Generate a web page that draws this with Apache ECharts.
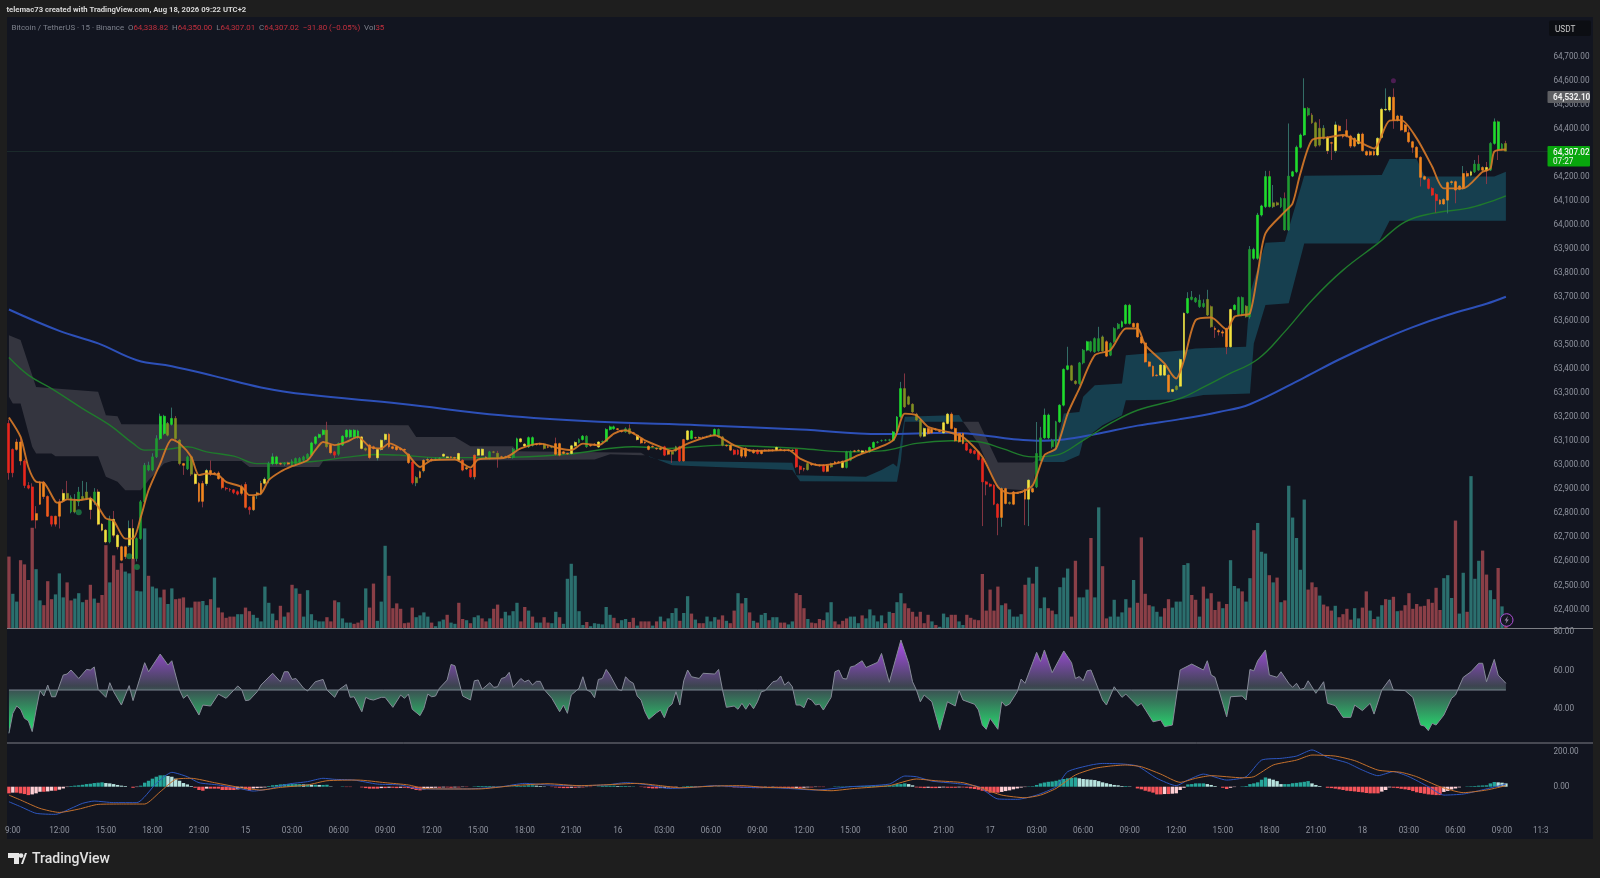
<!DOCTYPE html>
<html><head><meta charset="utf-8">
<style>html,body{margin:0;padding:0;background:#1e1e1e;overflow:hidden}#c{width:1600px;height:878px}</style>
<script src="https://cdn.jsdelivr.net/npm/echarts@6/dist/echarts.min.js"></script>
</head><body><div id="c"></div>
<script>
const tickLabels=["9:00","12:00","15:00","18:00","21:00","15","03:00","06:00","09:00","12:00","15:00","18:00","21:00","16","03:00","06:00","09:00","12:00","15:00","18:00","21:00","17","03:00","06:00","09:00","12:00","15:00","18:00","21:00","18","03:00","06:00","09:00"];
const priceTicks=[62400,62500,62600,62700,62800,62900,63000,63100,63200,63300,63400,63500,63600,63700,63800,63900,64000,64100,64200,64300,64400,64500,64600,64700];
const rsiTicks=[40,60,80];
const macdTicks=[0,200];

const opens=[63174,63066,63097,63097,63018,62916,62910,62799,62930,62930,
62870,62788,62788,62848,62883,62883,62806,62806,62848,62860,
62862,62862,62848,62889,62755,62730,62681,62775,62709,62661,
62661,62668,62737,62612,62695,62848,62980,62980,63035,63111,
63132,63125,63170,63195,63105,63007,62985,63035,62963,62924,
62924,62924,62978,62968,62968,62944,62905,62900,62898,62890,
62910,62920,62825,62815,62880,62880,62925,62942,63007,63035,
63007,63005,63010,63000,63007,63014,63021,63028,63042,63091,
63116,63128,63146,63084,63056,63046,63084,63118,63118,63118,
63115,63118,63070,63084,63077,63031,63066,63107,63129,63077,63077,
63070,63066,63046,63014,62927,62949,62977,63021,63024,63024,
63027,63038,63032,63035,63032,63049,63021,62985,62982,62952,
63042,63042,63032,63028,63056,63050,63035,63035,63034,63032,
63067,63110,63088,63077,63083,63088,63090,63088,63077,63075,
63090,63090,63056,63049,63049,63081,63095,63107,63121,63083,
63088,63076,63097,63100,63149,63152,63152,63143,63139,63152,
63135,63125,63111,63095,63079,63079,63070,63070,63077,63060,
63056,63060,63077,63018,63107,63111,63115,63115,63116,63118,
63125,63125,63149,63118,63083,63083,63063,63063,63066,63070,
63063,63063,63063,63060,63063,63063,63063,63063,63066,63063,
63063,63063,63066,62996,62986,62982,63004,63004,63000,63000,
63000,63007,63014,63014,63016,62991,63021,63060,63060,63060,
63060,63056,63074,63095,63102,63104,63104,63104,63139,
63202,63319,63285,63254,63213,63188,63121,63153,63149,63150,
63143,63135,63174,63213,63153,63132,63132,63091,63066,63060,
63056,63028,62931,62921,62917,62838,62783,62903,62845,62889,
62885,62889,62899,62859,62889,62910,63021,63114,63114,63077,
63077,63181,63250,63399,63414,63350,63340,63426,63479,63476,
63472,63476,63476,63514,63458,63514,63569,63576,63590,63666,
63590,63590,63534,63509,63430,63412,63375,63375,63375,63375,
63315,63315,63329,63440,63634,63690,63680,63660,63660,63625,
63660,63570,63560,63555,63569,63493,63648,63625,63632,63618,
63618,63861,63861,64041,64076,64201,64076,64092,64076,64110,
63979,64203,64221,64323,64374,64485,64457,64425,64402,64360,
64364,64342,64309,64411,64370,64392,64370,64328,64339,64378,
64305,64305,64305,64291,64364,64478,64478,64531,64436,64453,
64416,64384,64346,64323,64281,64201,64190,64152,64127,64103,
64087,64103,64176,64180,64148,64152,64214,64207,64221,64253,
64228,64239,64228,64339,64429,64314,64338.82];

const closes=[62969,62969,63066,63018,62916,62905,62772,62772,62838,62870,
62788,62755,62755,62788,62852,62862,62866,62852,62889,62870,
62889,62816,62889,62755,62730,62681,62772,62709,62661,62605,
62620,62737,62612,62695,62848,63000,63000,63035,63111,63204,
63204,63174,63195,63111,63007,63000,63035,62963,62924,62850,
62850,62978,62963,62965,62944,62907,62902,62898,62887,62880,
62883,62825,62815,62870,62885,62925,62942,63007,63035,63007,
63005,63008,63005,63018,63028,63028,63035,63046,63093,63118,
63128,63146,63077,63052,63042,63091,63121,63146,63146,63146,
63143,63070,63063,63032,63070,63066,63104,63129,63077,63070,63065,
63066,63063,63011,62927,62949,62973,63021,63024,63020,63027,
63030,63046,63035,63032,63030,63021,62980,62990,62952,63042,
63067,63067,63034,63056,63054,63032,63034,63034,63032,63067,
63110,63098,63080,63115,63115,63086,63087,63070,63075,63077,
63046,63042,63049,63047,63081,63095,63107,63121,63077,63081,
63086,63097,63099,63149,63160,63160,63149,63140,63152,63132,
63133,63107,63093,63093,63066,63077,63068,63066,63042,63046,
63046,63077,63018,63107,63143,63143,63114,63116,63115,63119,
63126,63149,63118,63083,63081,63063,63046,63046,63038,63038,
63060,63052,63049,63049,63061,63061,63061,63074,63064,63061,
63061,63061,62993,62982,62984,63007,63002,63003,62998,62975,
62975,62993,63007,63012,62991,63056,63057,63058,63062,63054,
63058,63074,63095,63097,63103,63105,63106,63139,63201,
63319,63243,63254,63222,63188,63121,63153,63132,63135,63149,
63141,63177,63213,63153,63102,63098,63091,63063,63052,63049,
63024,62931,62921,62913,62838,62783,62903,62841,62841,62838,
62883,62887,62859,62938,62903,63049,63114,63209,63209,63104,
63181,63250,63399,63414,63354,63340,63426,63479,63514,63514,
63527,63527,63534,63454,63507,63569,63587,63597,63666,63590,
63576,63534,63509,63430,63412,63371,63373,63417,63417,63306,
63307,63329,63440,63632,63694,63700,63695,63687,63673,63690,
63576,63565,63555,63550,63493,63648,63666,63698,63698,63662,
63898,63898,64041,64079,64201,64076,64092,64083,64110,63979,
64203,64221,64323,64374,64485,64457,64425,64328,64332,64402,
64309,64340,64416,64392,64368,64370,64328,64360,64378,64309,
64291,64291,64291,64360,64481,64481,64531,64436,64453,64395,
64388,64346,64323,64281,64198,64190,64152,64124,64101,64087,
64106,64176,64180,64145,64162,64214,64203,64221,64253,64228,
64239,64225,64339,64429,64314,64336,64307.02];

const highs=[63190,63070,63110,63110,63025,62930,62925,62830,62935,62935,
62875,62790,62790,62860,62900,62935,62875,62880,62910,62935,
62930,62870,62905,62900,62760,62735,62790,62810,62715,62665,
62665,62770,62775,62700,62855,63010,63015,63050,63125,63215,
63210,63180,63240,63205,63110,63010,63040,63040,62970,62930,
62935,62985,63020,62972,62975,62950,62910,62905,62900,62895,
62920,62930,62830,62875,62890,62935,62950,63015,63050,63040,
63012,63012,63015,63025,63032,63034,63040,63050,63098,63122,
63132,63150,63181,63090,63060,63095,63125,63150,63150,63150,
63148,63122,63075,63090,63082,63070,63108,63133,63135,63082,63080,
63075,63070,63050,63018,62955,62978,63025,63032,63030,63032,
63034,63050,63038,63038,63036,63053,63025,62995,62986,63045,
63070,63070,63038,63060,63060,63060,63040,63040,63038,63072,
63115,63114,63092,63120,63120,63092,63094,63092,63081,63080,
63115,63094,63060,63053,63085,63100,63112,63126,63125,63087,
63092,63100,63103,63154,63165,63165,63155,63147,63158,63170,
63139,63129,63115,63099,63083,63083,63074,63074,63081,63064,
63060,63081,63081,63110,63147,63147,63119,63120,63120,63123,
63130,63153,63153,63122,63087,63087,63067,63067,63070,63074,
63067,63067,63067,63064,63067,63067,63067,63078,63070,63067,
63067,63067,63070,63000,62990,63011,63008,63008,63004,63004,
63004,63011,63018,63018,63020,63060,63062,63064,63066,63064,
63064,63078,63099,63101,63107,63109,63110,63143,63205,
63347,63382,63290,63258,63218,63192,63157,63157,63153,63155,
63148,63182,63218,63220,63158,63136,63136,63095,63070,63064,
63060,63032,62935,62925,62921,62842,62908,62907,62850,62893,
62889,62893,62903,62942,62907,63180,63160,63236,63215,63110,
63185,63254,63403,63493,63418,63355,63430,63484,63518,63518,
63532,63576,63540,63520,63512,63574,63592,63602,63670,63672,
63594,63594,63538,63514,63434,63416,63380,63421,63421,63380,
63319,63333,63445,63636,63720,63725,63700,63710,63690,63730,
63665,63578,63566,63563,63573,63652,63670,63702,63702,63666,
63912,63905,64050,64084,64225,64225,64166,64097,64115,64135,
64422,64225,64330,64380,64610,64490,64465,64430,64440,64415,
64370,64346,64430,64417,64374,64440,64375,64365,64384,64384,
64310,64310,64310,64365,64487,64568,64535,64568,64458,64458,
64420,64400,64350,64328,64286,64206,64195,64157,64132,64108,
64111,64181,64185,64185,64166,64245,64225,64226,64270,64290,
64244,64262,64344,64443,64434,64340,64350];

const lows=[62940,62950,63060,63000,62905,62900,62770,62737,62835,62860,
62785,62745,62745,62737,62845,62855,62800,62800,62830,62855,
62855,62775,62835,62750,62725,62675,62675,62700,62650,62600,
62610,62660,62600,62600,62690,62840,62975,62975,63030,63105,
63125,63120,63165,63100,63000,62960,62980,62955,62920,62845,
62825,62915,62955,62960,62940,62900,62895,62890,62880,62875,
62875,62820,62795,62810,62860,62875,62920,62925,63000,63000,
63000,62998,63000,62995,63000,63008,63015,63024,63038,63085,
63112,63124,63070,63045,63030,63040,63080,63112,63112,63112,
63110,63065,63058,63025,63065,63020,63060,63100,63070,63065,63060,
63060,63055,63005,62920,62913,62945,62970,63015,63015,63020,
63022,63034,63028,63028,63026,63016,62975,62980,62948,62941,
63038,63038,63028,63024,63050,62990,63030,63030,63028,63028,
63062,63094,63076,63072,63078,63082,63083,63065,63071,63071,
63040,63037,63045,63043,63045,63077,63091,63103,63072,63077,
63082,63072,63093,63096,63145,63148,63145,63136,63135,63128,
63129,63103,63089,63089,63062,63073,63064,63062,63038,63042,
63010,63056,63014,63015,63103,63107,63110,63111,63111,63114,
63121,63121,63114,63079,63077,63059,63042,63042,63030,63030,
63056,63048,63045,63045,63057,63057,63057,63059,63060,63057,
63057,63057,62989,62965,62975,62978,62998,62999,62994,62971,
62971,62989,63003,63008,62987,62987,63017,63054,63056,63050,
63054,63052,63070,63091,63098,63100,63100,63100,63135,
63195,63238,63250,63218,63184,63115,63117,63128,63130,63144,
63136,63130,63170,63148,63098,63094,63087,63059,63048,63045,
63020,62747,62875,62909,62834,62709,62744,62837,62836,62834,
62881,62882,62751,62747,62885,62905,63017,63110,63108,63070,
63072,63176,63245,63395,63350,63335,63335,63420,63474,63470,
63468,63472,63472,63450,63454,63510,63565,63572,63586,63585,
63572,63530,63505,63426,63408,63367,63369,63371,63371,63302,
63303,63311,63325,63436,63630,63686,63676,63655,63655,63621,
63572,63530,63540,63535,63462,63489,63644,63621,63625,63614,
63610,63855,63855,64035,64070,64072,64070,64079,64070,63975,
63975,64199,64215,64318,64370,64452,64420,64322,64326,64355,
64295,64270,64300,64388,64360,64364,64320,64323,64334,64304,
64287,64287,64287,64286,64360,64474,64470,64400,64430,64390,
64384,64340,64300,64276,64160,64186,64148,64120,64051,64083,
64083,64048,64166,64090,64144,64147,64198,64202,64216,64224,
64223,64170,64224,64334,64270,64310,64307.01];

const candleTones=("RRAARRRAAA"+"DRDAYOGOGO"+"OYGYYYGYYA"+"AYYGGGGGGL"+"LOLOOAGOYA"+"AYAAADRRRR"+"ADRAAAYGLL"+"AGAGGGGGLL"+"LLOARGLLLL"+"LYOAAYYYAAA"+
"AAAROAAAAG"+"GYYAAYDARD"+"YYAGOOAAAG"+"LYYLLAAOAO"+"AAAAYYGLGA"+"AYGLLLAAGO"+"AYAAAAAARA"+"OORDYLAAAA"+"GLGOAARRAA"+"AARAAAAYAA"+"AARRAOAAAR"+"AOAAYGGAAY"+"ALLGGGGLL"+
"LOOOOOYAAA"+"AYYAAAARRR"+"RRRRRRAAOA"+"AAAYAGGLLG"+"GLLLOOGGLG"+"GGOAGGGLLL"+"AAAAAAAYYA"+"YOYYLGGGGO"+"OAAAAYLGGO"+"GLLLLLOOGG"+"GLLLLGOOOO"+"YAYAAAAAYA"+"AAAYYYYAAA"+"AAAAAARRRA"+"AAAAAAAYGG"+"AYGLLGO").split("");

const volumes=[119,57,44,113,106,80,167,98,46,38,78,48,56,91,51,76,46,49,58,43,47,72,49,42,55,138,76,121,97,108,
94,91,116,62,61,166,87,69,66,51,64,40,66,48,49,51,34,34,44,44,45,38,48,84,34,26,17,19,19,23,
23,34,28,22,17,11,69,42,24,13,37,19,26,72,66,57,19,63,23,13,11,11,18,11,46,43,16,9,9,7,
9,13,66,34,74,12,44,137,87,33,41,
32,8,9,34,18,21,26,19,9,3,11,14,22,9,7,42,15,13,8,18,21,16,11,16,32,39,16,27,21,28,
42,11,35,29,19,9,9,18,9,8,27,18,7,82,107,87,28,5,10,3,8,7,6,35,22,17,8,13,15,10,
17,4,11,11,11,4,11,19,11,16,25,33,12,25,53,24,14,8,8,19,11,18,14,21,12,8,29,58,41,50,
26,12,9,22,25,13,18,18,9,9,6,11,58,55,33,15,9,8,15,13,26,43,11,6,12,16,19,19,8,21,
16,31,21,11,21,8,27,25,43,
58,41,33,27,19,27,8,22,11,5,2,24,18,22,22,11,5,22,17,14,13,90,29,64,29,69,38,41,31,19,
19,23,72,84,74,102,33,51,33,29,23,68,84,99,19,112,51,51,64,150,51,201,103,16,19,47,19,26,48,34,
80,42,151,57,38,36,27,19,33,48,34,44,44,105,108,55,47,19,69,49,58,30,44,33,40,113,70,66,61,44,
83,163,175,127,124,88,76,84,43,46,237,184,150,97,214,64,76,68,54,39,36,29,37,18,23,32,14,33,16,34,
61,29,15,19,38,48,47,52,28,29,38,58,32,40,36,37,48,42,67,30,83,88,50,179,24,92,27,253,82,112,
129,89,63,48,100,36,8];

const volumeSides=("RTTRRRRTTR"+"RRTTTRRTTT"+"RRTRRRTRRR"+"TTRTTTRTTT"+"RTTRRRTTRR"+"TTRTRRRRRT"+"TRRTTTTTTR"+"RTRRTRTTTT"+"TTRRRTTTTR"+"RRTRRTTTRRR"+
"RRRRTTTTRT"+"TTRTTRRTRT"+"TRRTRRRTTT"+"TRRTRTTRRT"+"TRTTTTTTRT"+"TTTTTRRTTR"+"RTRRRTRTRT"+"TTRTTRTRRT"+"TTRRTRRTRT"+"RTRTTRTTRR"+"TTRRRTRRRR"+"TTRRRRTTTR"+"TTTTTRTRT"+
"TRRRRRRRTR"+"TTTRRTTRRR"+"RRRRRRTRTT"+"TTRTRTTTRR"+"TTTTRRTTTR"+"TTRRTTTTTR"+"TRRRRTTTRR"+"TTTTTRRTRT"+"RRRTRTTTRT"+"TRTTTRTRTR"+"TTTTTRRRTR"+"RRTRRRRTTR"+"RTRTTRTRTR"+"RRRRRRRRRR"+"TTTRTTRTTT"+"RRTTRTR").split("");

const ema200=[[0,63648],[13,63559],[23,63507],[33,63437],[42,63412],[53,63371],[65,63324],[77,63294],[101,63256],[127,63208],[152,63181],[178,63167],[204,63149],[225,63130],[243,63135],[251,63125],[260,63107],[265,63102],[272,63107],[280,63129],[291,63165],[302,63192],[312,63222],[320,63254],[334,63365],[343,63440],[353,63515],[362,63575],[371,63625],[381,63672],[386,63701]];
const ema50=[[0,63448],[5,63375],[11,63319],[19,63236],[26,63167],[32,63091],[35,63063],[41,63067],[46,63077],[51,63056],[58,63038],[64,63007],[71,63010],[79,63017],[88,63035],[95,63045],[101,63042],[111,63032],[126,63032],[144,63046],[161,63077],[170,63070],[184,63084],[189,63081],[204,63070],[216,63056],[225,63060],[234,63091],[243,63102],[250,63098],[256,63070],[264,63035],[270,63042],[277,63104],[284,63174],[291,63229],[302,63278],[308,63325],[314,63375],[322,63441],[329,63556],[336,63687],[344,63812],[353,63923],[360,64013],[367,64048],[376,64069],[382,64097],[386,64121]];
const ema9=[[0,63199],[3,63118],[5,62993],[7,62931],[9,62927],[12,62848],[13,62844],[15,62858],[18,62855],[21,62862],[23,62827],[25,62779],[27,62769],[30,62695],[32,62695],[34,62785],[36,62896],[39,63007],[42,63107],[44,63091],[47,63035],[49,62959],[51,62966],[54,62959],[56,62931],[60,62910],[62,62876],[65,62883],[67,62938],[70,62973],[73,62996],[77,63021],[79,63063],[81,63097],[84,63084],[87,63097],[90,63118],[93,63077],[96,63070],[98,63091],[101,63070],[103,63042],[106,62993],[109,63021],[115,63024],[119,62991],[121,63024],[128,63032],[132,63070],[137,63090],[142,63070],[145,63063],[148,63090],[152,63083],[156,63132],[159,63146],[164,63104],[168,63077],[171,63060],[175,63090],[182,63125],[187,63083],[192,63060],[201,63063],[204,63028],[209,63000],[215,63014],[219,63042],[228,63104],[231,63215],[234,63208],[237,63160],[242,63139],[246,63118],[251,63035],[255,62910],[258,62883],[261,62889],[264,62917],[267,63042],[270,63070],[273,63215],[276,63319],[280,63458],[284,63479],[288,63569],[291,63569],[293,63500],[298,63423],[300,63375],[301,63361],[303,63437],[306,63604],[310,63615],[314,63565],[316,63618],[318,63625],[320,63632],[322,63798],[324,63965],[329,64055],[331,64090],[333,64214],[336,64353],[340,64364],[344,64374],[348,64346],[352,64318],[356,64434],[359,64436],[363,64360],[367,64242],[370,64152],[375,64152],[380,64221],[382,64235],[383,64305],[386,64314]];

const grayTop=[[0,63541],[3,63521],[7,63326],[23,63306],[25,63208],[28,63204],[29,63171],[103,63167],[105,63118],[115,63118],[119,63079],[130,63079],[131,63058],[163,63052],[164,63042]];
const grayBottom=[[0,63285],[1,63257],[3,63257],[6,63077],[7,63049],[11,63049],[12,63038],[23,63038],[25,62952],[28,62931],[30,62896],[34,62896],[36,62938],[40,63007],[42,63018],[60,63018],[62,62993],[80,62993],[81,63017],[130,63021],[151,63024],[155,63046],[163,63042],[164,63042]];
const tealTop1=[[165,63035],[167,63025],[171,63018],[202,63010],[203,62959],[221,62952],[225,62980],[228,63007],[229,62994],[230,63104],[231,63202],[245,63209],[246,63181]];
const tealBottom1=[[165,63038],[171,63000],[202,62980],[204,62934],[229,62931],[230,63021],[231,63181],[246,63181]];
const grayTop2=[[246,63181],[250,63181],[255,63012],[264,63012],[265,63021]];
const grayBottom2=[[246,63181],[250,63091],[255,62903],[264,62894],[265,63021]];
const tealTop2=[[265,63021],[267,63035],[270,63077],[272,63215],[276,63222],[277,63285],[280,63333],[287,63340],[288,63458],[303,63479],[306,63486],[319,63493],[320,63715],[324,63926],[329,63930],[334,64205],[354,64208],[356,64274],[363,64274],[365,64201],[383,64201],[386,64221]];
const tealBottom2=[[265,63021],[267,63014],[272,63014],[276,63042],[277,63104],[282,63167],[287,63208],[288,63271],[302,63274],[308,63292],[320,63299],[321,63507],[324,63667],[330,63674],[334,63923],[353,63923],[356,64017],[386,64017]];

const greenMarks=[[18,62805],[31,62622],[33,62577]];
const purpleMarks=[[357,64600]];

const rsiValues=[[0,27.5],[1,37.9],[2,41.7],[3,40],[4,35.3],[5,34],[6,28.4],[7,39.6],[8,49.7],[9,46.9],[10,52.6],[11,46.5],[12,46.5],[14,57.8],[15,58.3],[16,60.4],[18,56],[20,60.7],[21,60.4],[22,62],[23,50.3],[25,46.2],[26,53.8],[27,49.1],[29,42.2],[31,52.3],[32,44.5],[35,64.2],[36,59.5],[39,68.7],[41,63],[42,65.2],[44,50],[45,45.7],[46,47.4],[49,37],[50,42.2],[52,41.7],[54,47.9],[56,45.7],[59,52.1],[60,50.3],[61,44.5],[62,44.8],[64,49.1],[65,52.6],[68,58.7],[70,54.3],[71,59.5],[72,59.5],[73,55.5],[74,56],[76,50.9],[77,49.5],[79,54.3],[81,55.5],[82,50],[84,46.2],[85,50],[87,52.9],[88,46.2],[89,46.5],[91,38.7],[92,46.2],[93,45.2],[94,44.8],[96,46.2],[97,46.2],[99,41],[101,47.4],[102,45.7],[103,47.9],[104,40],[106,36.7],[107,40.5],[108,47.9],[109,46.5],[110,46.9],[111,50.9],[113,55.2],[114,63.3],[115,62.6],[117,46.9],[119,44.8],[120,54.8],[121,55.2],[122,50.3],[124,53.8],[125,51.4],
[126,51.7],[127,56],[128,56.6],[129,59.2],[130,51.4],[132,56],[133,54.3],[134,55.2],[135,52.6],[136,54.5],[137,54.5],[138,50.3],[140,45.7],[142,38.7],[143,42.2],[144,37.9],[145,47.4],[147,50.9],[148,56.9],[149,50],[150,49.1],[151,46],[152,55.5],[153,56],[154,60.7],[155,57.8],[157,50.3],[158,49.7],[159,56.9],[160,54.7],[161,53.5],[162,46.9],[163,44.8],[164,38.7],[165,34.8],[167,38.2],[168,39.6],[169,35.6],[170,41],[171,42.7],[172,49.1],[173,42.2],[174,54.8],[175,60.4],[176,56.9],[178,56],[179,58.7],[182,58.3],[183,60.7],[184,50],[185,41],[187,41.7],[188,40],[189,43.1],[190,40],[191,43.1],[192,40.3],[193,43.9],[194,49.1],[195,49.7],[197,54.3],[198,54.8],[199,57.3],[200,52.6],[201,54.3],[202,51.7],[203,42.2],
[204,42.2],[205,40.8],[206,45.7],[207,44.8],[208,42.2],[209,42.7],[210,39.6],[212,46.2],[213,59.5],[214,60.4],[215,56],[216,55.7],[217,62],[218,62.5],[220,65.2],[221,61.7],[224,64.4],[225,69],[227,54],[230,76],[232,63.9],[233,54.3],[234,50],[235,43.9],[236,47.4],[238,43.9],[240,29.2],[242,43.9],[244,41.7],[245,49.7],[246,44.8],[249,42.6],[250,39.6],[251,31.8],[252,29.6],[253,35.3],[255,29.6],[256,43.9],[257,41.7],[258,42.7],[260,49.1],[261,55.7],[262,53.5],[265,69.6],[266,64.8],[267,70.8],[269,59],[272,70.3],[274,64.2],[275,56],[276,57],[277,54.8],[278,60],[279,60.4],[281,50],
[282,44.8],[283,42.2],[285,51.7],[287,46.2],[288,47.9],[291,41.7],[292,43.1],[295,33.5],[297,34.4],[298,31],[300,31.8],[302,60.4],[305,63.5],[308,60.4],[309,65.2],[310,57.8],[311,56.6],[314,36.1],[315,46.5],[318,46.9],[319,44.8],[320,60.7],[321,60],[322,65.2],[324,70.8],[325,57.8],[327,56.6],[328,59.5],[330,53.5],[331,51.4],[332,53.5],[333,50.3],[334,50.9],[335,54.8],[337,48.3],[339,54.3],[340,43.1],[342,41.9],[344,35.8],[346,35.8],[347,42.2],[349,39.3],[351,43.1],[352,37.5],[354,50],[356,55.5],[357,50],[360,49.7],[362,46.2],[364,31.8],[365,31.3],[366,28.9],[367,32.7],[368,31.8],[370,37],[372,45.7],[373,47.4],[375,56.6],[377,59.5],[379,63.9],[380,63.9],[381,54.3],[383,65.9],[384,57.8],[386,53.5]];
const rsiMid=[[0,50],[386,50]];

const macdLine=[[0,-86],[3,-114],[7,-152],[12,-158],[16,-124],[19,-95],[22,-82],[27,-91],[33,-91],[38,19],[42,82],[46,57],[49,23],[54,10],[60,-13],[63,-25],[67,-13],[72,15],[77,29],[81,48],[84,42],[89,38],[95,15],[101,10],[105,-10],[109,-13],[118,-13],[127,0],[133,19],[139,10],[147,6],[154,10],[159,23],[165,10],[170,-10],[175,-6],[182,6],[190,-4],[197,-6],[201,-10],[208,-19],[217,0],[227,15],[231,61],[234,57],[238,32],[244,19],[250,0],[255,-70],[260,-72],[265,-48],[270,0],[273,86],[279,124],[282,133],[287,130],[291,118],[296,48],[301,6],[304,38],[308,72],[314,38],[319,57],[323,152],[328,162],[332,175],[336,210],[340,168],[345,137],[349,95],[353,63],[357,86],[361,57],[366,0],[370,-48],[375,-42],[379,-23],[386,15]];
const macdSignal=[[0,-48],[3,-76],[8,-124],[13,-147],[18,-128],[23,-101],[29,-99],[35,-99],[39,-29],[43,42],[47,48],[53,23],[60,-6],[65,-19],[70,-4],[77,10],[82,34],[90,38],[97,23],[103,10],[107,-10],[113,-13],[121,-13],[130,6],[139,17],[147,6],[154,11],[162,19],[168,6],[173,-6],[182,4],[189,6],[195,-4],[201,-6],[212,-23],[218,-10],[227,6],[234,44],[239,34],[246,23],[251,-10],[256,-48],[262,-63],[266,-48],[270,-10],[275,67],[280,105],[284,118],[288,124],[292,114],[297,72],[302,25],[306,48],[310,63],[318,51],[321,57],[326,124],[332,152],[336,181],[342,175],[347,149],[353,95],[359,82],[363,57],[369,0],[375,-34],[381,-19],[386,6]];
const macdHist=[-38,-34,-34,-38,-42,-48,-44,-38,-29,-29,-27,-23,-23,-17,-10,-2,
4,6,8,11,15,17,21,23,25,21,19,15,10,6,4,0,-6,-2,
6,23,34,46,57,65,65,61,57,46,34,21,13,4,
-6,-19,-23,-11,-11,-11,-11,-19,-19,-19,-19,-15,-8,-15,-23,-10,-8,-6,-4,
4,8,10,13,15,15,15,15,15,13,13,11,11,10,10,11,
2,0,0,2,-2,-2,0,0,
-4,-8,-11,-11,-11,-8,-8,-6,-6,-8,
-6,-6,-8,-13,-19,-21,-15,-11,-8,-6,-6,-4,-4,-6,-4,-4,-2,-2,0,2,4,
4,4,4,2,2,2,2,2,2,4,4,
6,8,8,6,4,2,0,-2,
-4,-6,-8,-8,-6,-6,-4,-4,-2,-2,0,
2,4,6,6,6,4,4,4,2,2,0,-2,
-4,-8,-10,-10,-8,-6,-4,-4,
-2,0,2,4,4,2,2,4,4,2,0,2,0,-2,
-2,-4,-4,-6,-6,-6,-8,-8,-8,-6,-6,-4,-4,-6,-8,
-8,-10,-8,-8,-6,-4,-4,-2,-2,-2,0,0,2,2,2,2,
4,4,4,4,4,4,6,6,6,6,6,8,
15,15,19,15,8,
-4,-6,-8,-6,-8,-8,-6,-4,-6,-6,-6,-4,-4,-6,
-10,-13,-17,-23,-27,-34,-34,-34,-30,-25,-21,-15,-10,-5,-2,2,
3,10,19,24,28,30,34,40,44,48,50,53,48,44,42,40,38,32,25,20,15,
10,8,4,4,2,0,
-10,-15,-23,-28,-34,-44,-44,-42,-42,-40,-38,-19,-6,
13,15,19,19,19,15,10,4,0,-6,
-13,-6,-2,0,2,4,
15,19,25,40,53,46,40,32,15,15,15,20,22,25,28,32,19,10,4,0,
-6,-8,-11,-15,-19,-23,-25,-27,-30,-32,-36,-38,-38,-38,-28,-19,-4,-6,-8,-12,
-15,-19,-25,-32,-36,-40,-44,-46,-48,-48,
-30,-24,-16,-10,-4,0,2,3,4,6,7,8,19,27,25,23,19];

const highTag=64532.10, lastPrice=64307.02;

// ---------- presentation ----------
const tones={L:'#1fdc2c',G:'#1f9a30',O:'#7f8f22',Y:'#f3e23e',A:'#f2861e',D:'#ee5a1c',R:'#e8261c'};
const FONT='Roboto, "Liberation Sans", sans-serif';
const axisText='#8f939e';
const CATS=398, LEFT=7, WIDTH=1543.5;
const categories=new Array(CATS).fill('');
tickLabels.forEach((t,k)=>{categories[1+12*k]=t;});
categories[395]='11:3';

const wickItems=opens.map((o,i)=>{const up=closes[i]>=o;const c=up?'rgba(58,125,115,.85)':'rgba(150,58,72,.85)';
  return {value:[o,closes[i],lows[i],highs[i]],itemStyle:{color:c,color0:c,borderColor:c,borderColor0:c}};});
const bodyItems=opens.map((o,i)=>{const c=tones[candleTones[i]];const a=Math.min(o,closes[i]),b=Math.max(o,closes[i]);
  return {value:[o,closes[i],a,b],itemStyle:{color:c,color0:c,borderColor:c,borderColor0:c}};});
const volItems=volumes.map((v,i)=>({value:v,itemStyle:{color:volumeSides[i]==='R'?'#8a3f47':'#2b6f6e'}}));
const histItems=macdHist.map((v,i)=>{const p=i?macdHist[i-1]:v;
  const c=v>=0?(v>=p?'#26a69a':'#b7e3de'):(v<=p?'#f6545a':'#ffd0d5');
  return {value:v,itemStyle:{color:c}};});

function cloud(name,top,bottom,fill){
  return {type:'custom',name,xAxisIndex:0,yAxisIndex:0,z:2,silent:true,clip:true,data:[[0,0]],
    renderItem:(p,api)=>({type:'polygon',shape:{points:top.concat(bottom.slice().reverse()).map(d=>api.coord(d))},style:{fill}})};
}
function line(name,data,color,width,xi,yi,z,smooth,extra){
  return Object.assign({type:'line',name,data,xAxisIndex:xi,yAxisIndex:yi,z,symbol:'none',smooth:smooth,silent:true,
    lineStyle:{color,width}},extra||{});
}
const xa=(gi,show)=>({type:'category',gridIndex:gi,data:categories,boundaryGap:true,axisLine:{show:false},axisTick:{show:false},splitLine:{show:false},
  axisLabel:{show:show,interval:0,color:axisText,fontSize:8.2,fontFamily:FONT,margin:7,hideOverlap:false}});
const money=v=>Number(v).toLocaleString('en-US',{minimumFractionDigits:2,maximumFractionDigits:2});
const yLabel=(vals)=>({customValues:vals,color:axisText,fontSize:8.2,fontFamily:FONT,margin:3,formatter:money,padding:[4,0,0,0]});

const chart=echarts.init(document.getElementById('c'),null,{renderer:'canvas',width:1600,height:878});
chart.setOption({
  animation:false,backgroundColor:'#1e1e1e',
  grid:[{left:LEFT,top:17,width:WIDTH,height:611},{left:LEFT,top:629,width:WIDTH,height:113},{left:LEFT,top:743.5,width:WIDTH,height:76}],
  xAxis:[xa(0,false),xa(1,false),xa(2,true)],
  yAxis:[
   {type:'value',gridIndex:0,position:'right',min:62323,max:64865,splitLine:{show:false},axisLine:{show:false},axisTick:{show:false},axisLabel:yLabel(priceTicks)},
   {type:'value',gridIndex:0,min:0,max:1018,show:false},
   {type:'value',gridIndex:1,position:'right',min:23,max:81.7,splitLine:{show:false},axisLine:{show:false},axisTick:{show:false},axisLabel:yLabel(rsiTicks)},
   {type:'value',gridIndex:2,position:'right',min:-187.4,max:246.9,splitLine:{show:false},axisLine:{show:false},axisTick:{show:false},axisLabel:yLabel(macdTicks)}
  ],
  series:[
   {type:'bar',name:'Volume',data:volItems,xAxisIndex:0,yAxisIndex:1,barWidth:3.3,z:1,silent:true},
   cloud('Cloud gray',grayTop,grayBottom,'#34353f'),
   cloud('Cloud teal',tealTop1,tealBottom1,'#163f4f'),
   cloud('Cloud gray 2',grayTop2,grayBottom2,'#34353f'),
   cloud('Cloud teal 2',tealTop2,tealBottom2,'#163f4f'),
   line('EMA 200',ema200,'#2d50b8',2,0,0,3,0.4),
   line('EMA 50',ema50,'#1f7a2c',1.4,0,0,3,0.4),
   {type:'candlestick',name:'Wicks',data:wickItems,xAxisIndex:0,yAxisIndex:0,barWidth:1,z:4,silent:true,
     markLine:{silent:true,symbol:'none',label:{show:false},lineStyle:{color:'rgba(60,120,80,.22)',type:'solid',width:1},data:[{yAxis:lastPrice}]}},
   {type:'candlestick',name:'BTCUSDT',data:bodyItems,xAxisIndex:0,yAxisIndex:0,barWidth:2.4,z:5,silent:true,itemStyle:{borderWidth:0.6}},
   line('EMA 9',ema9,'#d97a28',1.9,0,0,6,0.25,{lineStyle:{color:'#d97a28',width:1.9,opacity:.9}}),
   {type:'scatter',name:'Buy marks',data:greenMarks,xAxisIndex:0,yAxisIndex:0,symbolSize:6,z:6,silent:true,itemStyle:{color:'#1b7f46'}},
   {type:'scatter',name:'Top marks',data:purpleMarks,xAxisIndex:0,yAxisIndex:0,symbolSize:5,z:6,silent:true,itemStyle:{color:'#5b1f5f'}},
   line('RSI',rsiValues,'#858a97',1,1,2,3,false,{
     areaStyle:{origin:50,opacity:1,color:new echarts.graphic.LinearGradient(0,640,0,732,[
       {offset:0,color:'#ad4df0'},{offset:.5,color:'#3d4450'},{offset:1,color:'#27e070'}],true)}}),
   line('RSI mid',rsiMid,'#7b8490',1,1,2,4,false),
   {type:'bar',name:'Histogram',data:histItems,xAxisIndex:2,yAxisIndex:3,barWidth:3.4,z:2,silent:true},
   line('MACD',macdLine,'#2d56bf',1,2,3,3,0.2),
   line('Signal',macdSignal,'#c4702c',1,2,3,3,0.2)
  ]
});

// overlays positioned through the price axis
const yHigh=chart.convertToPixel({yAxisIndex:0},highTag), yLast=chart.convertToPixel({yAxisIndex:0},lastPrice);
const txt=(x,y,t,o)=>({type:'text',x,y,silent:true,style:Object.assign({text:t,fill:'#d0d0d0',font:'8.2px '+FONT,verticalAlign:'middle'},o||{})});
const rect=(x,y,w,h,f,o)=>({type:'rect',silent:true,shape:{x,y,width:w,height:h,r:(o&&o.r)||0},style:{fill:f},z:(o&&o.z)||0});
const hl=(y)=>({type:'line',silent:true,z:20,shape:{x1:7,y1:y,x2:1593,y2:y},style:{stroke:'#7d7f85',lineWidth:1}});
const G='{g|', R='{r|';
const legendText=G+'Bitcoin / TetherUS · 15 · Binance  O}'+R+'64,338.82}'+G+'  H}'+R+'64,350.00}'+G+'  L}'+R+'64,307.01}'+G+'  C}'+R+'64,307.02  −31.80 (−0.05%)}'+G+'  Vol}'+R+'35}';
const gfont='7.9px '+FONT;
chart.setOption({graphic:{elements:[
  Object.assign(rect(7,17,1586,822,'#121520'),{z:-10,zlevel:0}),
  hl(628.5),hl(743),
  rect(1549,20.5,42,15.5,'#0c0e13',{r:2,z:30}),
  Object.assign(txt(1555,29.5,'USDT',{fill:'#c9c9c9',font:'8.2px '+FONT}),{z:31}),
  rect(1547.5,yHigh-6,42.5,12,'#5e5f63',{r:1,z:30}),
  Object.assign(txt(1553,yHigh+1,money(highTag),{fill:'#f0f0f0',font:'bold 8.2px '+FONT}),{z:31}),
  rect(1547.5,yLast-5,42.5,20.5,'#08a60d',{r:1,z:30}),
  Object.assign(txt(1553,yLast+1.5,money(lastPrice),{fill:'#f4f4f4',font:'500 8.2px '+FONT}),{z:31}),
  Object.assign(txt(1553,yLast+10.5,'07:27',{fill:'#f4f4f4',font:'8.2px '+FONT}),{z:31}),
  Object.assign(txt(6.5,10.5,'telemac73 created with TradingView.com, Aug 18, 2026 09:22 UTC+2',{fill:'#d8d8d8',font:'bold 7.7px '+FONT}),{z:31}),
  {type:'text',x:11.5,y:28.5,silent:true,z:31,style:{text:legendText,verticalAlign:'middle',rich:{
     g:{fill:'#7d818c',font:gfont},r:{fill:'#c4303e',font:gfont}}}},
  {type:'circle',silent:true,z:30,shape:{cx:1506.7,cy:620,r:6.3},style:{fill:'#141722',stroke:'#b04fd6',lineWidth:1}},
  {type:'polygon',silent:true,z:31,shape:{points:[[1508,616],[1504.6,620.6],[1506.6,620.6],[1505.4,624],[1508.8,619.4],[1506.8,619.4]]},style:{fill:'#9b8aa8'}},
  {type:'polygon',silent:true,z:31,shape:{points:[[8,853],[19,853],[19,864],[14,864],[14,858],[8,858]]},style:{fill:'#e6e6e6'}},
  {type:'circle',silent:true,z:31,shape:{cx:21,cy:855.6,r:2.4},style:{fill:'#e6e6e6'}},
  {type:'polygon',silent:true,z:31,shape:{points:[[21,864],[25,853],[27,853],[27,853],[23,864]]},style:{fill:'#e6e6e6'}},
  Object.assign(txt(32,859,'TradingView',{fill:'#e2e2e2',font:'500 14px '+FONT}),{z:31})
]}});
</script></body></html>
